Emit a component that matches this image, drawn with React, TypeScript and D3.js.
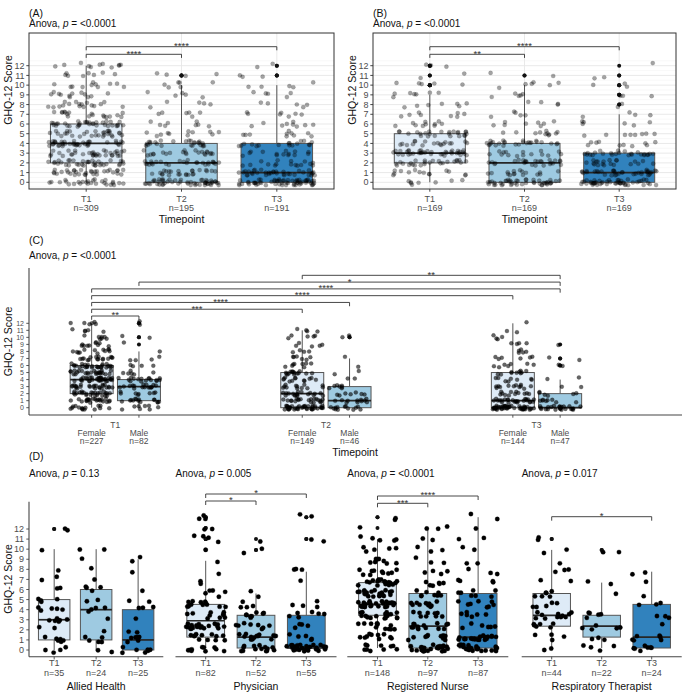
import React from "react";
import * as d3 from "d3";

// ---------- data ----------
const timepoints = ["T1", "T2", "T3"];
const sexes = ["Female", "Male"];
const scoreTicks = [0, 1, 2, 3, 4, 5, 6, 7, 8, 9, 10, 11, 12];

// counts of respondents with GHQ-12 score 0..12
const panelACounts = [
  [27, 32, 35, 34, 40, 30, 34, 18, 17, 12, 11, 8, 11],
  [52, 24, 26, 22, 26, 11, 8, 6, 5, 5, 6, 4, 0],
  [62, 36, 16, 14, 17, 10, 9, 7, 5, 5, 5, 3, 2],
];
const panelAN = [309, 195, 191];
const panelAComparisons: [number, number, string][] = [[0, 1, "****"], [0, 2, "****"]];
const panelAAnova = "<0.0001";

const panelBCounts = [
  [8, 14, 25, 38, 18, 24, 10, 8, 7, 7, 5, 2, 3],
  [45, 16, 26, 15, 26, 11, 8, 5, 4, 5, 6, 2, 0],
  [50, 35, 20, 25, 10, 8, 6, 4, 2, 3, 3, 2, 1],
];
const panelBN = [169, 169, 169];
const panelBComparisons: [number, number, string][] = [[0, 1, "**"], [0, 2, "****"]];
const panelBAnova = "<0.0001";

const panelCFemaleCounts = [
  [15, 22, 25, 25, 32, 25, 27, 16, 12, 10, 7, 5, 6],
  [40, 20, 18, 12, 12, 15, 8, 6, 4, 5, 5, 4, 0],
  [48, 25, 12, 12, 8, 10, 7, 6, 5, 4, 4, 2, 1],
];
const panelCMaleCounts = [
  [8, 14, 8, 16, 16, 6, 4, 4, 1, 1, 2, 0, 2],
  [13, 11, 7, 7, 2, 2, 1, 1, 0, 0, 2, 0, 0],
  [24, 8, 6, 2, 2, 0, 2, 2, 0, 1, 0, 0, 0],
];
const panelCFemaleN = [227, 149, 144];
const panelCMaleN = [82, 46, 47];
// group index = timepoint * 2 + sex
const panelCComparisons: [number, number, string][] = [
  [0, 1, "**"], [0, 2, "***"], [0, 3, "****"], [0, 4, "****"], [0, 5, "****"], [1, 5, "*"], [2, 5, "**"],
];
const panelCAnova = "<0.0001";

const professions = ["Allied Health", "Physician", "Registered Nurse", "Respiratory Therapist"];
const professionAnova = ["0.13", "0.005", "<0.0001", "0.017"];
const alliedHealthCounts = [
  [4, 6, 2, 6, 5, 4, 2, 2, 1, 0, 1, 0, 2],
  [2, 5, 1, 1, 4, 2, 4, 1, 1, 1, 2, 0, 0],
  [7, 6, 2, 1, 3, 2, 1, 0, 1, 2, 0, 0, 0],
];
const physicianCounts = [
  [10, 12, 19, 10, 12, 5, 2, 1, 1, 1, 4, 2, 3],
  [14, 13, 8, 8, 4, 2, 0, 0, 0, 2, 1, 0, 0],
  [28, 5, 4, 6, 4, 0, 1, 3, 0, 0, 2, 0, 2],
];
const nurseCounts = [
  [10, 10, 12, 18, 25, 22, 20, 10, 8, 5, 5, 1, 2],
  [25, 10, 14, 9, 10, 8, 6, 4, 3, 3, 2, 3, 0],
  [24, 20, 6, 6, 8, 7, 4, 3, 2, 2, 2, 1, 2],
];
const therapistCounts = [
  [2, 4, 6, 11, 5, 6, 2, 3, 1, 2, 2, 0, 0],
  [4, 3, 5, 5, 0, 1, 2, 0, 0, 2, 0, 0, 0],
  [7, 6, 1, 3, 3, 1, 1, 2, 0, 0, 0, 0, 0],
];
const professionN = [[35, 24, 25], [82, 52, 55], [148, 97, 87], [44, 22, 24]];
const professionComparisons: [number, number, string][][] = [
  [],
  [[0, 1, "*"], [0, 2, "*"]],
  [[0, 1, "***"], [0, 2, "****"]],
  [[0, 2, "*"]],
];

// ---------- styles ----------
const FONT = "'Liberation Sans', Arial, Helvetica, sans-serif";
const FILLS = ["#deebf7", "#9ecae1", "#3182bd"];
const BOX_STROKE = "#555555";
const TICK_TEXT = "#4d4d4d";

function expand(counts: number[]): number[] {
  const v: number[] = [];
  counts.forEach((c, s) => {
    for (let i = 0; i < c; i++) v.push(s);
  });
  return v;
}

function boxStats(values: number[]) {
  const s = [...values].sort((a, b) => a - b);
  const q1 = d3.quantile(s, 0.25) as number;
  const med = d3.quantile(s, 0.5) as number;
  const q3 = d3.quantile(s, 0.75) as number;
  const iqr = q3 - q1;
  const lo = q1 - 1.5 * iqr;
  const hi = q3 + 1.5 * iqr;
  const inside = s.filter((d) => d >= lo && d <= hi);
  return {
    q1, med, q3,
    wlo: d3.min(inside) as number,
    whi: d3.max(inside) as number,
    out: s.filter((d) => d < lo || d > hi),
  };
}

function hash(i: number, k: number) {
  const s = Math.sin(i * 12.9898 + k * 78.233) * 43758.5453;
  return s - Math.floor(s);
}

type PtStyle = { r: number; opacity: number };

function BoxGroup(props: {
  cx: number; bw: number; fill: string; counts: number[];
  y: d3.ScaleLinear<number, number>; jw: number; jh: number; seed: number; pt: PtStyle;
}) {
  const { cx, bw, fill, counts, y, jw, jh, seed, pt } = props;
  const v = expand(counts);
  const st = boxStats(v);
  return (
    <g>
      <line x1={cx} x2={cx} y1={y(st.q3)} y2={y(st.whi)} stroke={BOX_STROKE} strokeWidth={1} />
      <line x1={cx} x2={cx} y1={y(st.q1)} y2={y(st.wlo)} stroke={BOX_STROKE} strokeWidth={1} />
      <rect x={cx - bw / 2} y={y(st.q3)} width={bw} height={Math.max(0.5, y(st.q1) - y(st.q3))}
        fill={fill} stroke={BOX_STROKE} strokeWidth={1} />
      <line x1={cx - bw / 2} x2={cx + bw / 2} y1={y(st.med)} y2={y(st.med)} stroke="#262626" strokeWidth={1.7} />
      {st.out.map((o, i) => (
        <circle key={"o" + i} cx={cx} cy={y(o)} r={2} fill="#111" />
      ))}
      {v.map((s, i) => (
        <circle key={i}
          cx={cx + (hash(i + 1, seed) - 0.5) * 2 * jw}
          cy={y(s + (hash(i + 1, seed + 31.7) - 0.5) * 2 * jh)}
          r={pt.r} fill="#000" fillOpacity={pt.opacity}
          stroke="#000" strokeOpacity={pt.opacity * 0.6} strokeWidth={0.5} />
      ))}
    </g>
  );
}

function Bracket({ x1, x2, y, tip, label, fs }: { x1: number; x2: number; y: number; tip: number; label: string; fs: number }) {
  return (
    <g>
      <path d={`M${x1},${y + tip}V${y}H${x2}V${y + tip}`} fill="none" stroke="#333" strokeWidth={0.9} />
      <text x={(x1 + x2) / 2} y={y + 2.4} textAnchor="middle" fontSize={fs} fill="#333">{label}</text>
    </g>
  );
}

function AnovaLabel({ x, y, value }: { x: number; y: number; value: string }) {
  return (
    <text x={x} y={y} fontSize={10} fill="#111">
      Anova, <tspan fontStyle="italic">p</tspan> = {value}
    </text>
  );
}

function YTitle({ x, y }: { x: number; y: number }) {
  return (
    <text transform={`translate(${x},${y}) rotate(-90)`} textAnchor="middle" fontSize={10.5} fill="#111" dy="0.35em">
      GHQ-12 Score
    </text>
  );
}

function TopPanel(props: {
  letter: string; x: d3.ScaleLinear<number, number>; y: d3.ScaleLinear<number, number>;
  y0: number; y1: number; counts: number[][]; ns: number[]; comps: [number, number, string][];
  anova: string; bracketY: number[]; seed: number;
}) {
  const { letter, x, y, y0, y1, counts, ns, comps, anova, bracketY, seed } = props;
  const [xa, xb] = x.range();
  const unit = x(2) - x(1);
  const minor = d3.range(-0.5, 13, 1).filter((d) => y(d) > y0 && y(d) < y1);
  return (
    <g>
      <text x={xa} y={17} fontSize={10.5} fill="#111">({letter})</text>
      <AnovaLabel x={xa} y={26.5} value={anova} />
      <rect x={xa} y={y0} width={xb - xa} height={y1 - y0} fill="#fff" />
      {minor.map((d) => (
        <line key={"mi" + d} x1={xa} x2={xb} y1={y(d)} y2={y(d)} stroke="#f3f3f3" strokeWidth={0.6} />
      ))}
      {scoreTicks.map((d) => (
        <line key={"ma" + d} x1={xa} x2={xb} y1={y(d)} y2={y(d)} stroke="#e6e6e6" strokeWidth={0.9} />
      ))}
      {timepoints.map((t, i) => (
        <line key={"vg" + t} x1={x(i + 1)} x2={x(i + 1)} y1={y0} y2={y1} stroke="#e6e6e6" strokeWidth={0.9} />
      ))}
      {timepoints.map((t, i) => (
        <BoxGroup key={t} cx={x(i + 1)} bw={unit * 0.75} fill={FILLS[i]} counts={counts[i]} y={y}
          jw={unit * 0.4} jh={0.3} seed={seed + i * 5} pt={{ r: 2.1, opacity: 0.36 }} />
      ))}
      {comps.map(([a, b, lab], k) => (
        <Bracket key={"br" + k} x1={x(a + 1)} x2={x(b + 1)} y={bracketY[k]} tip={3.6} label={lab} fs={9.5} />
      ))}
      <rect x={xa} y={y0} width={xb - xa} height={y1 - y0} fill="none" stroke="#333" strokeWidth={1} />
      {scoreTicks.map((d) => (
        <g key={"yt" + d}>
          <line x1={xa - 2.7} x2={xa} y1={y(d)} y2={y(d)} stroke="#333" strokeWidth={0.9} />
          <text x={xa - 4.5} y={y(d)} dy="0.35em" textAnchor="end" fontSize={9} fill={TICK_TEXT}>{d}</text>
        </g>
      ))}
      {timepoints.map((t, i) => (
        <g key={"xt" + t}>
          <line x1={x(i + 1)} x2={x(i + 1)} y1={y1} y2={y1 + 2.7} stroke="#333" strokeWidth={0.9} />
          <text x={x(i + 1)} y={201.5} textAnchor="middle" fontSize={9} fill={TICK_TEXT}>{t}</text>
          <text x={x(i + 1)} y={211} textAnchor="middle" fontSize={9} fill={TICK_TEXT}>n={ns[i]}</text>
        </g>
      ))}
      <text x={(xa + xb) / 2} y={223} textAnchor="middle" fontSize={10.5} fill="#111">Timepoint</text>
      <YTitle x={xa - 21} y={90} />
    </g>
  );
}

function PanelC() {
  const y = d3.scaleLinear().domain([0, 12]).range([407.7, 323.3]);
  const x = d3.scaleLinear().domain([1, 3]).range([115.3, 536.5]);
  const unit = x(2) - x(1);
  const pos = (g: number) => x(Math.floor(g / 2) + 1 + (g % 2 === 0 ? -0.1123 : 0.1123));
  const axY = 415;
  const bracketBase = 316;
  const groups = d3.range(6);
  const counts = (g: number) => (g % 2 === 0 ? panelCFemaleCounts : panelCMaleCounts)[Math.floor(g / 2)];
  const ns = (g: number) => (g % 2 === 0 ? panelCFemaleN : panelCMaleN)[Math.floor(g / 2)];
  return (
    <g>
      <text x={29} y={244} fontSize={10.5} fill="#111">(C)</text>
      <AnovaLabel x={29} y={259} value={panelCAnova} />
      {groups.map((g) => (
        <BoxGroup key={g} cx={pos(g)} bw={unit * 0.204} fill={FILLS[g % 2]} counts={counts(g)} y={y}
          jw={unit * 0.1} jh={0.3} seed={100 + g * 7} pt={{ r: 2, opacity: 0.6 }} />
      ))}
      {panelCComparisons.map(([a, b, lab], k) => (
        <Bracket key={k} x1={pos(a)} x2={pos(b)} y={bracketBase - k * 6.78} tip={3.8} label={lab} fs={9.5} />
      ))}
      <line x1={29} x2={29} y1={268} y2={axY} stroke="#444" strokeWidth={1.1} />
      <line x1={29} x2={682} y1={axY} y2={axY} stroke="#444" strokeWidth={1.1} />
      {scoreTicks.map((d) => (
        <g key={"yt" + d}>
          <line x1={26.3} x2={29} y1={y(d)} y2={y(d)} stroke="#444" strokeWidth={0.9} />
          <text x={24} y={y(d)} dy="0.35em" textAnchor="end" fontSize={7} fill={TICK_TEXT}>{d}</text>
        </g>
      ))}
      {groups.map((g) => (
        <g key={"xt" + g}>
          <line x1={pos(g)} x2={pos(g)} y1={axY} y2={axY + 2.7} stroke="#444" strokeWidth={0.9} />
          <text x={pos(g)} y={435.5} textAnchor="middle" fontSize={8.5} fill={TICK_TEXT}>{sexes[g % 2]}</text>
          <text x={pos(g)} y={444} textAnchor="middle" fontSize={8.5} fill={TICK_TEXT}>n={ns(g)}</text>
        </g>
      ))}
      {timepoints.map((t, i) => (
        <text key={t} x={x(i + 1)} y={427.5} textAnchor="middle" fontSize={8.5} fill={TICK_TEXT}>{t}</text>
      ))}
      <text x={355} y={455.5} textAnchor="middle" fontSize={10.5} fill="#111">Timepoint</text>
      <YTitle x={8} y={341.5} />
    </g>
  );
}

function PanelD() {
  const yAH = d3.scaleLinear().domain([0, 12]).range([650, 529]);
  const yOther = d3.scaleLinear().domain([0, 12]).range([648, 517.2]);
  const ranges: [number, number][] = [[29, 163.3], [175.5, 336.5], [347.3, 508.3], [521.7, 681.7]];
  const countsList = [alliedHealthCounts, physicianCounts, nurseCounts, therapistCounts];
  const bracketYs = [[], [501, 494], [503.3, 496], [516.7]];
  const axY = 656.7;
  return (
    <g>
      <text x={29} y={460} fontSize={10.5} fill="#111">(D)</text>
      {professions.map((prof, p) => {
        const x = d3.scaleLinear().domain([0.4, 3.6]).range(ranges[p]);
        const y = p === 0 ? yAH : yOther;
        const unit = x(2) - x(1);
        return (
          <g key={prof}>
            <AnovaLabel x={ranges[p][0]} y={476.5} value={professionAnova[p]} />
            {timepoints.map((t, i) => (
              <BoxGroup key={t} cx={x(i + 1)} bw={unit * 0.75} fill={FILLS[i]} counts={countsList[p][i]} y={y}
                jw={unit * 0.4} jh={0.3} seed={300 + p * 17 + i * 5} pt={{ r: 2.2, opacity: 1 }} />
            ))}
            {professionComparisons[p].map(([a, b, lab], k) => (
              <Bracket key={k} x1={x(a + 1)} x2={x(b + 1)} y={bracketYs[p][k]} tip={4} label={lab} fs={9.5} />
            ))}
            <line x1={ranges[p][0]} x2={ranges[p][1]} y1={axY} y2={axY} stroke="#444" strokeWidth={1.1} />
            {timepoints.map((t, i) => (
              <g key={"xt" + t}>
                <line x1={x(i + 1)} x2={x(i + 1)} y1={axY} y2={axY + 2.7} stroke="#444" strokeWidth={0.9} />
                <text x={x(i + 1)} y={665.5} textAnchor="middle" fontSize={9} fill={TICK_TEXT}>{t}</text>
                <text x={x(i + 1)} y={675.5} textAnchor="middle" fontSize={9} fill={TICK_TEXT}>n={professionN[p][i]}</text>
              </g>
            ))}
            <text x={(ranges[p][0] + ranges[p][1]) / 2} y={690} textAnchor="middle" fontSize={10.5} fill="#111">{prof}</text>
          </g>
        );
      })}
      <line x1={29} x2={29} y1={501.7} y2={axY} stroke="#444" strokeWidth={1.1} />
      {scoreTicks.map((d) => (
        <g key={"yt" + d}>
          <line x1={26.3} x2={29} y1={yAH(d)} y2={yAH(d)} stroke="#444" strokeWidth={0.9} />
          <text x={24} y={yAH(d)} dy="0.35em" textAnchor="end" fontSize={9} fill={TICK_TEXT}>{d}</text>
        </g>
      ))}
      <YTitle x={8} y={579} />
    </g>
  );
}

export default function App() {
  const yTop = d3.scaleLinear().domain([0, 12]).range([182.3, 65.7]);
  const xA = d3.scaleLinear().domain([0.4, 3.6]).range([29, 334]);
  const xB = d3.scaleLinear().domain([0.4, 3.6]).range([373, 676]);
  return (
    <svg width={684} height={694} fontFamily={FONT}
      style={{ position: "absolute", left: 0, top: 0, background: "#fff" }}>
      <rect x={0} y={0} width={684} height={694} fill="#fff" />
      <TopPanel letter="A" x={xA} y={yTop} y0={33} y1={189} counts={panelACounts} ns={panelAN}
        comps={panelAComparisons} anova={panelAAnova} bracketY={[54.3, 46.7]} seed={1} />
      <TopPanel letter="B" x={xB} y={yTop} y0={33} y1={189} counts={panelBCounts} ns={panelBN}
        comps={panelBComparisons} anova={panelBAnova} bracketY={[54.3, 46.7]} seed={50} />
      <PanelC />
      <PanelD />
    </svg>
  );
}
